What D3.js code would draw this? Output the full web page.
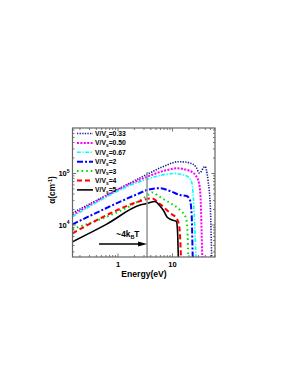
<!DOCTYPE html>
<html><head><meta charset="utf-8">
<script src="https://cdn.jsdelivr.net/npm/d3@7"></script>
<style>body{margin:0;background:#fff}svg{display:block}text{font-family:"Liberation Sans",Arial,sans-serif;font-weight:bold}</style>
</head><body><svg id="c" width="295" height="382"></svg>
<script>
// ---- data ----
const seriesLabels = ["0.33","0.50","0.67","2","3","4","5"];
const energy033 = [0.146,3.45,5.9,7.28,9.8,12.6,16.9,20.9,27.0,31.3,39.4,44.8,49.8,52.4,53];
const alpha033  = [17100,96500,128000,140000,160000,169000,167000,160000,134000,102000,137000,74800,19500,2390,1500];
const energy050 = [0.146,3.45,7.28,11.9,20.9,27.0,30.6,32.6,34.3,35.2,35.6];
const alpha050  = [15600,86600,114000,126000,112000,89400,65500,38300,7000,2390,1500];
const energy067 = [0.146,3.45,5.9,10.2,18.2,22.5,24.1,25.9,27.0,27.4];
const alpha067  = [14500,78200,91400,100000,89400,68400,35000,7000,2390,1500];
const energy2   = [0.146,2.53,3.45,5.9,9.0,13.7,18.2,20.9,22.5,23.5,23.8];
const alpha2    = [10300,41800,47900,51700,45700,38300,36600,30600,15600,2390,1500];
const energy3   = [0.146,3.45,4.21,5.9,9.0,13.7,17.7,18.8,19.5,19.8];
const alpha3    = [8350,37100,42800,35000,26700,19500,13700,8000,2390,1500];
const energy4   = [0.146,3.45,4.03,5.9,9.0,12.1,13.4,14.3,14.5];
const alpha4    = [6900,32000,33400,25600,17100,13100,8750,2390,1500];
const energy5   = [0.146,0.621,2.53,3.45,4.77,5.9,6.84,7.93,9.8,11.8,12.4,12.8,13.0];
const alpha5    = [4740,10400,24400,26300,28600,23400,19100,14300,12500,11700,7300,2390,1500];
const xTicks = [1,10];
const yTicks = [1e4,1e5];
const yTickExp = ["4","5"];
const markerEnergy = 3.41, markerTop = 107000;
const arrowFrom = 0.448, arrowTo = 3.41, arrowAlpha = 4280;

const series = [
  {e:energy033,a:alpha033,color:"#1c1c8f",dash:"1.3,1.3",w:1.6},
  {e:energy050,a:alpha050,color:"#ff00ff",dash:"2,1.4",w:2},
  {e:energy067,a:alpha067,color:"#00ffff",dash:"4,1.5,1.2,1.5",w:1.6},
  {e:energy2,a:alpha2,color:"#0000ff",dash:"6,2,2,2",w:2},
  {e:energy3,a:alpha3,color:"#00dd00",dash:"1.6,3",w:2},
  {e:energy4,a:alpha4,color:"#ff0000",dash:"5,3",w:2},
  {e:energy5,a:alpha5,color:"#000000",dash:null,w:1.6}
];

const L=72.5,R=215,T=128,B=257;
const x = d3.scaleLog().domain([0.146,60.3]).range([L,R]);
const y = d3.scaleLog().domain([2393,763800]).range([B,T]);
const svg = d3.select("#c");

svg.append("clipPath").attr("id","clip").append("rect").attr("x",L).attr("y",T).attr("width",R-L).attr("height",B-T);

const line = d3.line().x(d=>x(d[0])).y(d=>y(d[1])).curve(d3.curveMonotoneX);
const g = svg.append("g").attr("clip-path","url(#clip)");
series.forEach(s=>{
  const pts = s.e.map((e,i)=>[e,s.a[i]]);
  g.append("path").attr("d",line(pts)).attr("fill","none").attr("stroke",s.color)
   .attr("stroke-width",s.w).attr("stroke-dasharray",s.dash);
});

// vertical marker
svg.append("line").attr("x1",x(markerEnergy)).attr("x2",x(markerEnergy))
  .attr("y1",y(markerTop)).attr("y2",B).attr("stroke","#999").attr("stroke-width",1.6);

// arrow
svg.append("line").attr("x1",x(arrowFrom)).attr("x2",x(arrowTo)-7).attr("y1",y(arrowAlpha)).attr("y2",y(arrowAlpha))
  .attr("stroke","#000").attr("stroke-width",1.3);
const ax=x(arrowTo), ay=y(arrowAlpha);
svg.append("path").attr("d",`M${ax},${ay} L${ax-9},${ay-2.5} L${ax-9},${ay+2.5} Z`).attr("fill","#000");
const lab = svg.append("text").attr("x",x(0.93)).attr("y",y(arrowAlpha)-6.5).attr("font-size",8.3);
lab.append("tspan").text("~4k");
lab.append("tspan").attr("dy",2).attr("font-size",5.5).text("B");
lab.append("tspan").attr("dy",-2).text("T");

// frame
svg.append("rect").attr("x",L).attr("y",T).attr("width",R-L).attr("height",B-T)
  .attr("fill","none").attr("stroke","#666").attr("stroke-width",1.2);

// ticks
const tk = svg.append("g").attr("stroke","#666").attr("stroke-width",0.9);
const xMinor=[]; [0.1,1,10].forEach(d=>{for(let k=1;k<10;k++){const v=d*k; if(v>=0.146&&v<=60.3) xMinor.push(v);}});
xMinor.forEach(v=>{
  const major = xTicks.includes(v); const len = major?3.5:2;
  tk.append("line").attr("x1",x(v)).attr("x2",x(v)).attr("y1",B).attr("y2",B-len);
  tk.append("line").attr("x1",x(v)).attr("x2",x(v)).attr("y1",T).attr("y2",T+len);
});
const yMinor=[]; [1e3,1e4,1e5].forEach(d=>{for(let k=1;k<10;k++){const v=d*k; if(v>=2393&&v<=763800) yMinor.push(v);}});
yMinor.forEach(v=>{
  const major = yTicks.includes(v); const len = major?3.5:2;
  tk.append("line").attr("y1",y(v)).attr("y2",y(v)).attr("x1",L).attr("x2",L+len);
  tk.append("line").attr("y1",y(v)).attr("y2",y(v)).attr("x1",R).attr("x2",R-len);
});

// tick labels
xTicks.forEach(v=>{
  svg.append("text").attr("x",x(v)).attr("y",B+9.5).attr("text-anchor","middle").attr("font-size",7.5).text(d3.format("d")(v));
});
yTicks.forEach((v,i)=>{
  const t = svg.append("text").attr("x",L-3).attr("y",y(v)+2.8).attr("text-anchor","end").attr("font-size",7.5);
  t.append("tspan").text("10");
  t.append("tspan").attr("dy",-3.5).attr("font-size",5).text(yTickExp[i]);
});

// axis titles
svg.append("text").attr("x",144).attr("y",277).attr("text-anchor","middle").attr("font-size",8.6).text("Energy(eV)");
const yt = svg.append("text").attr("transform",`translate(55,190) rotate(-90)`).attr("text-anchor","middle").attr("font-size",8.3);
yt.append("tspan").text("α(cm");
yt.append("tspan").attr("dy",-3).attr("font-size",5.5).text("-1");
yt.append("tspan").attr("dy",3).text(")");

// legend
series.forEach((s,i)=>{
  const yy = 133.5 + i*9.4;
  svg.append("line").attr("x1",77).attr("x2",93).attr("y1",yy).attr("y2",yy)
    .attr("stroke",s.color).attr("stroke-width",s.w).attr("stroke-dasharray",s.dash);
  const t = svg.append("text").attr("x",95).attr("y",yy+2.4).attr("font-size",6.8);
  t.append("tspan").text("V/V");
  t.append("tspan").attr("dy",1.8).attr("font-size",4.8).text("s");
  t.append("tspan").attr("dy",-1.8).text("="+seriesLabels[i]);
});
</script></body></html>
